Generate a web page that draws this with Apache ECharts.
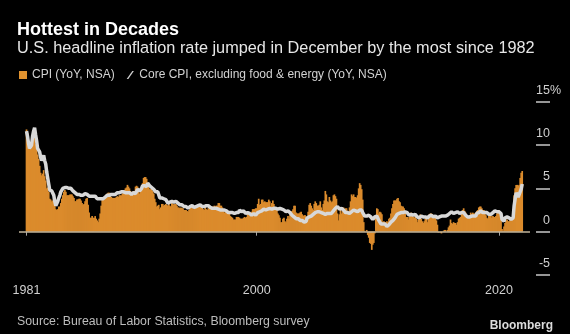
<!DOCTYPE html>
<html>
<head>
<meta charset="utf-8">
<script src="https://cdn.jsdelivr.net/npm/echarts@6/dist/echarts.min.js"></script>
<style>
  html, body { margin: 0; padding: 0; background: #000; }
  #chart { width: 570px; height: 334px; }
</style>
</head>
<body>
<div id="chart"></div>
<script>
// Monthly series, January 1981 through December 2021 (one row per year)
const startYear = 1981;

// Headline CPI, year-over-year % change, not seasonally adjusted
const cpi = [
  11.8,11.4,10.5,10.0,9.8,9.6,10.8,10.8,11.0,10.1,9.6,8.9,
  8.4,7.6,6.8,6.5,6.7,7.1,6.4,5.9,5.0,5.1,4.6,3.8,
  3.7,3.5,3.6,3.9,3.5,2.6,2.5,2.6,2.9,2.9,3.3,3.8,
  4.2,4.6,4.8,4.6,4.2,4.2,4.2,4.3,4.3,4.3,4.1,3.9,
  3.5,3.5,3.7,3.7,3.8,3.8,3.6,3.3,3.1,3.2,3.5,3.8,
  3.9,3.1,2.2,1.6,1.6,1.8,1.6,1.6,1.8,1.5,1.3,1.1,
  1.5,2.1,3.0,3.8,3.9,3.7,3.9,4.3,4.4,4.5,4.5,4.4,
  4.0,3.9,3.9,3.9,3.9,4.0,4.1,4.0,4.2,4.2,4.2,4.4,
  4.7,4.8,5.0,5.1,5.4,5.2,5.0,4.7,4.3,4.5,4.7,4.6,
  5.2,5.3,5.2,4.7,4.4,4.7,4.8,5.6,6.2,6.3,6.3,6.1,
  5.7,5.3,4.9,4.9,5.0,4.7,4.4,3.8,3.4,2.9,3.0,3.1,
  2.6,2.8,3.2,3.2,3.0,3.1,3.2,3.1,3.0,3.2,3.0,2.9,
  3.3,3.2,3.1,3.2,3.2,3.0,2.8,2.8,2.7,2.8,2.7,2.7,
  2.5,2.5,2.5,2.4,2.3,2.5,2.8,2.9,3.0,2.6,2.7,2.7,
  2.8,2.9,2.9,3.1,3.2,3.0,2.8,2.6,2.5,2.8,2.6,2.5,
  2.7,2.7,2.8,2.9,2.9,2.8,3.0,2.9,3.0,3.0,3.3,3.3,
  3.0,3.0,2.8,2.5,2.2,2.3,2.2,2.2,2.2,2.1,1.8,1.7,
  1.6,1.4,1.4,1.4,1.7,1.7,1.7,1.6,1.5,1.5,1.5,1.6,
  1.7,1.6,1.7,2.3,2.1,2.0,2.1,2.3,2.6,2.6,2.6,2.7,
  2.7,3.2,3.8,3.1,3.2,3.7,3.7,3.4,3.5,3.4,3.4,3.4,
  3.7,3.5,2.9,3.3,3.6,3.2,2.7,2.7,2.6,2.1,1.9,1.6,
  1.1,1.1,1.5,1.6,1.2,1.1,1.5,1.8,1.5,2.0,2.2,2.4,
  2.6,3.0,3.0,2.2,2.1,2.1,2.1,2.2,2.3,2.0,1.8,1.9,
  1.9,1.7,1.7,2.3,3.1,3.3,3.0,2.7,2.5,3.2,3.5,3.3,
  3.0,3.0,3.1,3.5,2.8,2.5,3.2,3.6,4.7,4.3,3.5,3.4,
  4.0,3.6,3.4,3.5,4.2,4.3,4.1,3.8,2.1,1.3,2.0,2.5,
  2.1,2.4,2.8,2.6,2.7,2.7,2.4,2.0,2.8,3.5,4.3,4.1,
  4.3,4.0,4.0,3.9,4.2,5.0,5.6,5.4,4.9,3.7,1.1,0.1,
  0.0,0.2,-0.4,-0.7,-1.3,-1.4,-2.1,-1.5,-1.3,-0.2,1.8,2.7,
  2.6,2.1,2.3,2.2,2.0,1.1,1.2,1.1,1.1,1.2,1.1,1.5,
  1.6,2.1,2.7,3.2,3.6,3.6,3.6,3.8,3.9,3.5,3.4,3.0,
  2.9,2.9,2.7,2.3,1.7,1.7,1.4,1.7,2.0,2.2,1.8,1.7,
  1.6,2.0,1.5,1.1,1.4,1.8,2.0,1.5,1.2,1.0,1.2,1.5,
  1.6,1.1,1.5,2.0,2.1,2.1,2.0,1.7,1.7,1.7,1.3,0.8,
  -0.1,0.0,-0.1,-0.2,0.0,0.1,0.2,0.2,0.0,0.2,0.5,0.7,
  1.4,1.0,0.9,1.1,1.0,1.0,0.8,1.1,1.5,1.6,1.7,2.1,
  2.5,2.7,2.4,2.2,1.9,1.6,1.7,1.9,2.2,2.0,2.2,2.1,
  2.1,2.2,2.4,2.5,2.8,2.9,2.9,2.7,2.3,2.5,2.2,1.9,
  1.6,1.5,1.9,2.0,1.8,1.6,1.8,1.7,1.7,1.8,2.1,2.3,
  2.5,2.3,1.5,0.3,0.1,0.6,1.0,1.3,1.4,1.2,1.2,1.4,
  1.4,1.7,2.6,4.2,5.0,5.4,5.4,5.3,5.4,6.2,6.8,7.0
];

// Core CPI (ex food & energy), year-over-year % change, not seasonally adjusted
const core = [
  11.6,11.0,10.2,9.6,9.4,10.0,11.0,11.6,12.0,11.2,10.5,9.6,
  9.4,9.2,8.6,8.2,8.5,8.8,8.2,7.8,6.9,6.2,5.5,4.8,
  4.9,4.7,4.6,4.2,3.5,3.0,2.9,3.5,3.9,4.2,4.6,4.8,
  5.0,5.0,5.1,5.2,5.1,5.0,5.0,5.1,5.0,4.8,4.7,4.7,
  4.5,4.5,4.3,4.3,4.3,4.3,4.2,4.1,4.2,4.2,4.4,4.3,
  4.3,4.1,4.1,4.1,4.1,4.0,4.1,4.0,4.1,3.9,3.8,3.8,
  3.8,3.8,3.8,3.8,3.8,3.9,4.0,4.2,4.2,4.3,4.2,4.2,
  4.3,4.3,4.3,4.4,4.3,4.5,4.5,4.5,4.5,4.5,4.6,4.7,
  4.6,4.6,4.5,4.5,4.5,4.5,4.5,4.4,4.3,4.4,4.5,4.4,
  4.4,4.6,4.9,4.8,4.7,4.8,5.0,5.3,5.4,5.3,5.3,5.2,
  5.6,5.6,5.3,5.1,5.1,5.0,4.9,4.7,4.6,4.5,4.6,4.4,
  3.9,3.8,3.9,3.9,3.8,3.8,3.7,3.5,3.3,3.5,3.4,3.3,
  3.5,3.4,3.4,3.4,3.5,3.3,3.3,3.2,3.1,3.2,3.1,3.2,
  2.9,2.9,2.9,2.8,2.7,2.9,2.9,2.9,3.0,2.8,2.8,2.6,
  2.9,3.0,3.0,3.1,3.1,3.0,2.9,3.0,2.9,3.0,3.0,3.0,
  3.0,2.9,2.8,2.7,2.7,2.7,2.7,2.6,2.7,2.6,2.6,2.6,
  2.5,2.5,2.5,2.7,2.5,2.4,2.4,2.3,2.2,2.3,2.2,2.2,
  2.2,2.3,2.1,2.1,2.2,2.2,2.2,2.5,2.5,2.3,2.4,2.4,
  2.4,2.1,2.1,2.2,2.0,2.1,2.1,1.9,2.0,2.1,2.1,1.9,
  2.0,2.2,2.4,2.3,2.4,2.4,2.5,2.6,2.6,2.5,2.6,2.6,
  2.6,2.7,2.7,2.6,2.5,2.7,2.7,2.7,2.6,2.6,2.8,2.7,
  2.6,2.6,2.4,2.5,2.5,2.3,2.2,2.4,2.2,2.2,2.0,1.9,
  1.9,1.7,1.7,1.5,1.6,1.5,1.5,1.3,1.2,1.3,1.1,1.1,
  1.1,1.2,1.6,1.8,1.7,1.9,1.8,1.7,2.0,2.0,2.2,2.2,
  2.3,2.4,2.3,2.2,2.2,2.0,2.1,2.1,2.0,2.1,2.1,2.2,
  2.1,2.1,2.1,2.3,2.4,2.6,2.7,2.8,2.9,2.7,2.6,2.6,
  2.7,2.7,2.5,2.3,2.2,2.2,2.2,2.1,2.1,2.2,2.3,2.4,
  2.5,2.3,2.4,2.3,2.3,2.4,2.5,2.5,2.5,2.2,2.0,1.8,
  1.7,1.8,1.8,1.9,1.8,1.7,1.5,1.4,1.5,1.7,1.7,1.8,
  1.6,1.3,1.1,0.9,0.9,0.9,0.9,0.9,0.8,0.6,0.8,0.8,
  1.0,1.1,1.2,1.3,1.5,1.6,1.8,2.0,2.0,2.1,2.2,2.2,
  2.3,2.2,2.3,2.3,2.3,2.2,2.1,1.9,2.0,2.0,1.9,1.9,
  1.9,2.0,1.9,1.7,1.7,1.6,1.7,1.8,1.7,1.7,1.7,1.7,
  1.6,1.6,1.7,1.8,2.0,1.9,1.9,1.7,1.7,1.8,1.7,1.6,
  1.6,1.7,1.8,1.8,1.7,1.8,1.8,1.8,1.9,1.9,2.0,2.1,
  2.2,2.3,2.2,2.1,2.2,2.2,2.2,2.3,2.2,2.1,2.1,2.2,
  2.3,2.2,2.0,1.9,1.7,1.7,1.7,1.7,1.7,1.8,1.7,1.8,
  1.8,1.8,2.1,2.1,2.2,2.3,2.4,2.2,2.2,2.1,2.2,2.2,
  2.2,2.1,2.0,2.1,2.0,2.1,2.2,2.4,2.4,2.3,2.3,2.3,
  2.3,2.4,2.1,1.4,1.2,1.2,1.6,1.7,1.7,1.6,1.6,1.6,
  1.4,1.3,1.6,3.0,3.8,4.5,4.3,4.0,4.0,4.6,4.9,5.5
];

// Axis labels
const yearLabels = [1981, 2000, 2020];
const yTicks = [-5, 0, 5, 10, 15];

const seriesNames = ['CPI (YoY, NSA)', 'Core CPI, excluding food & energy (YoY, NSA)'];
const titleText = 'Hottest in Decades';
const subtitleText = 'U.S. headline inflation rate jumped in December by the most since 1982';
const sourceText = 'Source: Bureau of Labor Statistics, Bloomberg survey';

// Month index -> decimal year on the time scale
const monthPos = i => startYear + i / 12;
const cpiData = cpi.map((v, i) => [monthPos(i), v]);
const coreData = core.map((v, i) => [monthPos(i), v]);

const FONT = '"Liberation Sans", Arial, sans-serif';

const chart = echarts.init(document.getElementById('chart'), null, { renderer: 'canvas' });
chart.setOption({
  backgroundColor: '#000',
  animation: false,
  textStyle: { fontFamily: FONT },
  title: [
    { text: titleText, left: 12, top: 16,
      textStyle: { color: '#ffffff', fontSize: 18, fontWeight: 'bold', fontFamily: FONT } },
    { text: subtitleText, left: 12, top: 36,
      textStyle: { color: '#e6e6e6', fontSize: 16.3, fontWeight: 'normal', fontFamily: FONT } },
    { text: sourceText, left: 12, top: 311,
      textStyle: { color: '#bdbdbd', fontSize: 12.3, fontWeight: 'normal', fontFamily: FONT } },
    { text: 'Bloomberg', right: 12, top: 315,
      textStyle: { color: '#dcdcdc', fontSize: 12, fontWeight: 'bold', fontFamily: FONT } }
  ],
  legend: {
    left: 14, top: 64,
    itemWidth: 8, itemHeight: 8, itemGap: 12,
    textStyle: { color: '#d2d2d2', fontSize: 12, fontFamily: FONT },
    data: [
      { name: seriesNames[0], icon: 'rect', itemStyle: { color: '#e0922f' } },
      { name: seriesNames[1], icon: 'path://M0,10 L7,0 L9,0 L2,10 Z', itemStyle: { color: '#d0d0d0' } }
    ]
  },
  grid: { left: 19, right: 40, top: 101.7, bottom: 59, containLabel: false },
  xAxis: {
    type: 'value',
    min: 1980.38, max: 2022.56,
    splitLine: { show: false },
    axisLine: { show: false },
    axisTick: { show: true, customValues: yearLabels, length: 4,
                lineStyle: { color: '#a8a8a8', width: 1 } },
    axisLabel: { customValues: yearLabels, margin: 9, color: '#d0d0d0',
                 fontSize: 12.5, fontFamily: FONT, formatter: v => String(v) }
  },
  yAxis: {
    type: 'value',
    position: 'right',
    offset: 6,
    min: -5, max: 15, interval: 5,
    splitLine: { show: false },
    axisLine: { show: false },
    axisTick: { show: true, length: 14, lineStyle: { color: '#c8c8c8', width: 1.5 } },
    axisLabel: {
      // numbers right-aligned in a fixed box over the tick; the % sign hangs past it
      margin: 0, align: 'left', verticalAlign: 'bottom', padding: [0, 0, 5, 0],
      color: '#d0d0d0', fontSize: 12.5, fontFamily: FONT,
      formatter: v => '{n|' + v + '}' + (v === yTicks[yTicks.length - 1] ? '{p|%}' : ''),
      rich: {
        n: { width: 14, align: 'right', color: '#d0d0d0', fontSize: 12.5, fontFamily: FONT },
        p: { color: '#d0d0d0', fontSize: 12.5, fontFamily: FONT }
      }
    }
  },
  series: [
    {
      name: seriesNames[0],
      type: 'bar',
      data: cpiData,
      barWidth: 1.7,
      itemStyle: { color: '#db8b2c' },
      z: 2,
      markLine: {
        silent: true,
        symbol: ['none', 'none'],
        label: { show: false },
        lineStyle: { color: '#c2b59b', width: 1.5, type: 'solid' },
        data: [{ yAxis: 0 }]
      }
    },
    {
      name: seriesNames[1],
      type: 'line',
      data: coreData,
      showSymbol: false,
      symbol: 'none',
      color: '#d0d0d0',
      lineStyle: { color: '#d8d8d8', width: 3.5 },
      z: 3
    }
  ]
});
</script>
</body>
</html>
